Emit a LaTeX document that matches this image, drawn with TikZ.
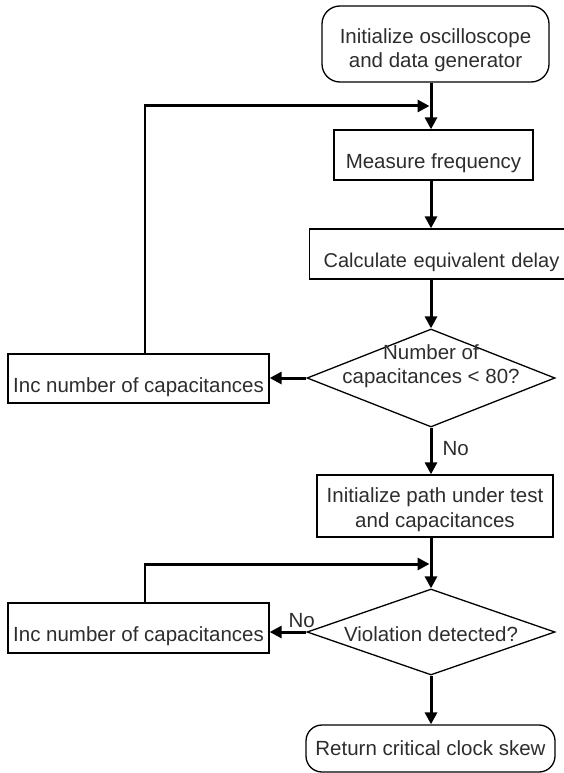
\documentclass[tikz,border=0pt]{standalone}
\usepackage{fontspec}
\setmainfont{Liberation Sans}
\usetikzlibrary{arrows.meta,shapes.geometric}
\definecolor{txt}{RGB}{45,45,45}
\tikzset{
  every node/.style={font=\fontsize{20.5}{24.5}\selectfont, text=txt},
  box/.style={draw=black, line width=1.3pt, inner sep=0pt},
  rbox/.style={box, rounded corners=16pt},
  lowtext/.style={text height=29pt, text depth=2pt},
  dia/.style={box, diamond},
  flow/.style={line width=3pt, -{Triangle[length=12pt,width=12pt]}},
  thinline/.style={line width=1.6pt},
}
\begin{document}
\begin{tikzpicture}[x=1pt,y=-1pt]
\useasboundingbox (0,0) rectangle (564,773);
\clip (0,0) rectangle (564,773);
\coordinate (ax) at (431,0);
% nodes
\node[rbox, rounded corners=18pt, minimum width=227pt, minimum height=76pt, align=center, text height=48pt, text depth=0pt] (start) at (435.5,44) {Initialize oscilloscope\\and data generator};
\node[box, lowtext, minimum width=199pt, minimum height=50pt] (meas) at (433.5,155) {Measure frequency};
\node[box, lowtext, anchor=west, inner xsep=14pt, text width=260pt, align=left, minimum height=50pt, font=\fontsize{20}{24}\selectfont] (calc) at (309,254) {Calculate equivalent delay};
\node[dia, minimum width=248pt, minimum height=98pt] (d1) at (431,378) {};
\node[align=center] (d1text) at (431,366) {Number of\\capacitances < 80?};
\node[box, lowtext, minimum width=261pt, minimum height=49pt] (inc1) at (138.5,378.5) {Inc number of capacitances};
\node[box, minimum width=236pt, minimum height=62pt, align=center, text height=42pt, text depth=0pt] (init) at (435,506) {Initialize path under test\\and capacitances};
\node[dia, minimum width=248pt, minimum height=86pt] (d2) at (431,632) {};
\node (d2text) at (431,634.5) {Violation detected?};
\node[box, lowtext, minimum width=261pt, minimum height=50pt] (inc2) at (138.5,628) {Inc number of capacitances};
\node[rbox, minimum width=249pt, minimum height=47pt] (ret) at (430.5,748.5) {Return critical clock skew};
\node[anchor=base west] (no1) at (439,455) {No};
\node[anchor=base west] (no2) at (285,627) {No};
% junctions
\coordinate (j1) at (431,106);
\coordinate (c1) at (145,106);
\coordinate (j2) at (431,564);
\coordinate (c2) at (145,564);
% connectors
\draw[flow] (start.south -| ax) -- (meas.north -| ax);
\draw[flow] (meas.south -| ax) -- (calc.north -| ax);
\draw[flow] (calc.south -| ax) -- (d1.north);
\draw[flow] (d1.west) -- (inc1.east |- d1.west);
\draw[thinline] (inc1.north -| c1) -- (c1);
\draw[flow, shorten >=1.5pt] ([xshift=-0.8pt]c1) -- (j1);
\draw[flow] (d1.south) -- (init.north -| d1.south);
\draw[flow] (init.south -| ax) -- (d2.north);
\draw[thinline] (inc2.north -| c2) -- (c2);
\draw[flow, shorten >=1.5pt] ([xshift=-0.8pt]c2) -- (j2);
\draw[flow] (d2.west) -- (inc2.east |- d2.west);
\draw[flow] (d2.south) -- (ret.north -| d2.south);
\end{tikzpicture}
\end{document}
